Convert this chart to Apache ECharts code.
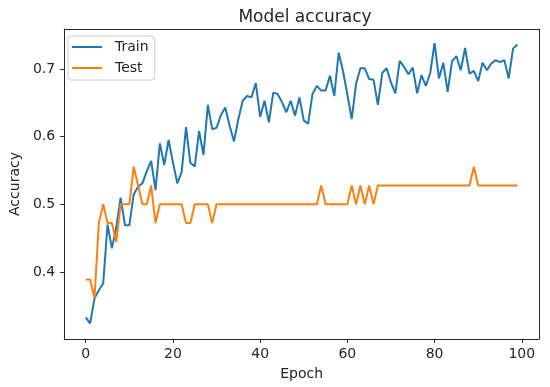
<!DOCTYPE html>
<html>
<head>
<meta charset="utf-8">
<script src="https://cdn.jsdelivr.net/npm/echarts@6/dist/echarts.min.js"></script>
<style>
  html, body { margin: 0; padding: 0; background: #fff; }
  #chart { width: 550px; height: 387px; }
</style>
</head>
<body>
<div id="chart"></div>
<script>
const title = 'Model accuracy';
const xName = 'Epoch';
const yName = 'Accuracy';
const seriesNames = ['Train', 'Test'];
const xTicks = [0, 20, 40, 60, 80, 100];
const yTicks = [0.4, 0.5, 0.6, 0.7];

const train = [
  0.333, 0.324, 0.361, 0.373, 0.383, 0.470, 0.435, 0.466, 0.510, 0.469,
  0.469, 0.515, 0.526, 0.531, 0.549, 0.564, 0.521, 0.590, 0.558, 0.595,
  0.562, 0.531, 0.548, 0.614, 0.561, 0.556, 0.608, 0.573, 0.647, 0.611,
  0.613, 0.632, 0.643, 0.616, 0.593, 0.626, 0.653, 0.660, 0.658, 0.679,
  0.629, 0.653, 0.621, 0.665, 0.663, 0.651, 0.636, 0.653, 0.631, 0.658,
  0.624, 0.619, 0.663, 0.675, 0.668, 0.668, 0.690, 0.660, 0.724, 0.697,
  0.662, 0.626, 0.678, 0.701, 0.701, 0.685, 0.684, 0.647, 0.694, 0.701,
  0.680, 0.664, 0.712, 0.703, 0.692, 0.702, 0.664, 0.691, 0.675, 0.694,
  0.738, 0.686, 0.709, 0.666, 0.711, 0.719, 0.698, 0.731, 0.693, 0.697,
  0.682, 0.709, 0.698, 0.708, 0.713, 0.710, 0.713, 0.686, 0.730, 0.736
];

const test = [
  0.3889, 0.3889, 0.3611, 0.4722, 0.5000, 0.4722, 0.4722, 0.4444, 0.5000, 0.5000,
  0.5000, 0.5556, 0.5278, 0.5000, 0.5000, 0.5278, 0.4722, 0.5000, 0.5000, 0.5000,
  0.5000, 0.5000, 0.5000, 0.4722, 0.4722, 0.5000, 0.5000, 0.5000, 0.5000, 0.4722,
  0.5000, 0.5000, 0.5000, 0.5000, 0.5000, 0.5000, 0.5000, 0.5000, 0.5000, 0.5000,
  0.5000, 0.5000, 0.5000, 0.5000, 0.5000, 0.5000, 0.5000, 0.5000, 0.5000, 0.5000,
  0.5000, 0.5000, 0.5000, 0.5000, 0.5278, 0.5000, 0.5000, 0.5000, 0.5000, 0.5000,
  0.5000, 0.5278, 0.5000, 0.5278, 0.5000, 0.5278, 0.5000, 0.5278, 0.5278, 0.5278,
  0.5278, 0.5278, 0.5278, 0.5278, 0.5278, 0.5278, 0.5278, 0.5278, 0.5278, 0.5278,
  0.5278, 0.5278, 0.5278, 0.5278, 0.5278, 0.5278, 0.5278, 0.5278, 0.5278, 0.5556,
  0.5278, 0.5278, 0.5278, 0.5278, 0.5278, 0.5278, 0.5278, 0.5278, 0.5278, 0.5278
];

const colors = ['#1f77b4', '#ff7f0e'];
const font = 'DejaVu Sans';
const textColor = '#262626';
const spine = '#262626';

const toPairs = arr => arr.map((v, i) => [i, v]);

const xRange = { min: -4.95, max: 103.95 };
const yRange = { min: 0.301, max: 0.759 };

const chart = echarts.init(document.getElementById('chart'), null, { renderer: 'canvas' });
chart.setOption({
  animation: false,
  backgroundColor: '#ffffff',
  title: {
    text: title,
    left: 300,
    textAlign: 'center',
    top: 4,
    textStyle: { fontFamily: font, fontSize: 17, fontWeight: 'normal', color: textColor }
  },
  legend: {
    data: seriesNames.map(n => ({ name: n, icon: 'rect' })),
    orient: 'vertical',
    left: 68,
    top: 36,
    itemWidth: 30,
    itemHeight: 2,
    itemGap: 7,
    padding: [4, 6, 5, 4],
    backgroundColor: 'rgba(255,255,255,0.8)',
    borderColor: '#cccccc',
    borderWidth: 1,
    borderRadius: 3,
    textStyle: { fontFamily: font, fontSize: 14, color: textColor, padding: [0, 0, 0, 8] }
  },
  grid: { left: 61, right: 11, top: 29, bottom: 48 },
  xAxis: [
    {
      type: 'value',
      min: xRange.min,
      max: xRange.max,
      position: 'bottom',
      name: xName,
      nameLocation: 'middle',
      nameGap: 28,
      nameTextStyle: { fontFamily: font, fontSize: 14, color: textColor },
      axisLine: { show: true, onZero: false, lineStyle: { color: spine, width: 1 } },
      splitLine: { show: false },
      axisTick: { show: true, length: 4, customValues: xTicks, lineStyle: { color: spine } },
      axisLabel: {
        customValues: xTicks,
        margin: 8,
        fontFamily: font, fontSize: 14, color: textColor,
        formatter: v => String(v)
      }
    },
    {
      type: 'value',
      min: xRange.min,
      max: xRange.max,
      position: 'top',
      axisLine: { show: true, onZero: false, lineStyle: { color: spine, width: 1 } },
      splitLine: { show: false },
      axisTick: { show: false },
      axisLabel: { show: false }
    }
  ],
  yAxis: [
    {
      type: 'value',
      min: yRange.min,
      max: yRange.max,
      position: 'left',
      name: yName,
      nameLocation: 'middle',
      nameRotate: 90,
      nameGap: 39,
      nameTextStyle: { fontFamily: font, fontSize: 14, color: textColor },
      axisLine: { show: true, onZero: false, lineStyle: { color: spine, width: 1 } },
      splitLine: { show: false },
      axisTick: { show: true, length: 4, customValues: yTicks, lineStyle: { color: spine } },
      axisLabel: {
        customValues: yTicks,
        margin: 9,
        fontFamily: font, fontSize: 14, color: textColor,
        formatter: v => v.toFixed(1)
      }
    },
    {
      type: 'value',
      min: yRange.min,
      max: yRange.max,
      position: 'right',
      axisLine: { show: true, onZero: false, lineStyle: { color: spine, width: 1 } },
      splitLine: { show: false },
      axisTick: { show: false },
      axisLabel: { show: false }
    }
  ],
  series: [
    {
      name: seriesNames[0],
      type: 'line',
      xAxisIndex: 0,
      yAxisIndex: 0,
      data: toPairs(train),
      showSymbol: false,
      symbol: 'none',
      lineStyle: { color: colors[0], width: 2 },
      itemStyle: { color: colors[0] },
      z: 2
    },
    {
      name: seriesNames[1],
      type: 'line',
      xAxisIndex: 0,
      yAxisIndex: 0,
      data: toPairs(test),
      showSymbol: false,
      symbol: 'none',
      lineStyle: { color: colors[1], width: 2 },
      itemStyle: { color: colors[1] },
      z: 3
    }
  ]
});
</script>
</body>
</html>
